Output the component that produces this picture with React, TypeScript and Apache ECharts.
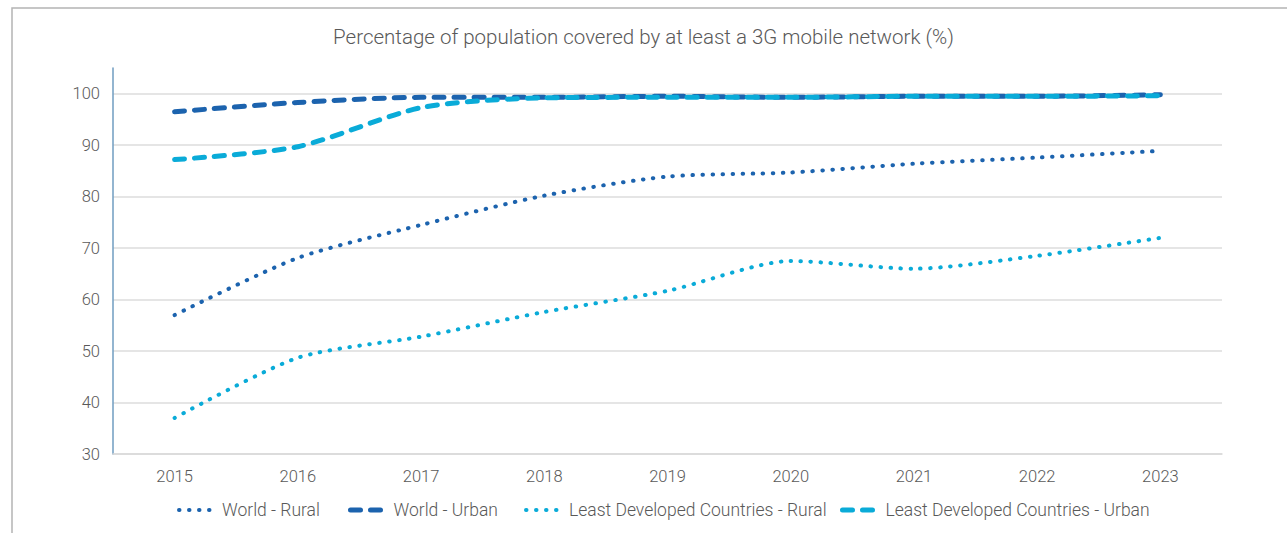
import React, { useEffect, useRef } from "react";
import * as echarts from "echarts";

const years = ["2015", "2016", "2017", "2018", "2019", "2020", "2021", "2022", "2023"];
const worldRural = [57.0, 68.1, 74.5, 80.2, 83.9, 84.7, 86.4, 87.6, 88.9];
const worldUrban = [96.5, 98.3, 99.3, 99.3, 99.5, 99.3, 99.5, 99.5, 99.8];
const ldcRural = [37.0, 48.7, 52.8, 57.6, 61.7, 67.5, 66.0, 68.5, 72.0];
const ldcUrban = [87.2, 89.7, 97.3, 99.2, 99.3, 99.3, 99.5, 99.5, 99.6];
const seriesNames = [
  "World - Rural",
  "World - Urban",
  "Least Developed Countries - Rural",
  "Least Developed Countries - Urban",
];

const DARK = "#1c63ae";
const LIGHT = "#0aabd8";
const FONT = "Roboto";

export default function App() {
  const ref = useRef<HTMLDivElement>(null);
  useEffect(() => {
    if (!ref.current) return;
    const chart = echarts.init(ref.current, null, { renderer: "svg" });
    const dotted = { type: [0.5, 9.5] as any, cap: "round" as any, width: 4 };
    const dashed = { type: [10, 10] as any, cap: "round" as any, width: 5 };
    const mk = (name: string, data: number[], color: string, ls: any) => ({
      name,
      type: "line",
      data,
      smooth: 0.25,
      symbol: "none",
      color,
      lineStyle: { ...ls, color },
    });
    const legendLefts = [177, 348, 524, 840];
    const legendWidths = [4, 5, 4, 5];
    const legends = seriesNames.map((n, i) => ({
      data: [n],
      left: legendLefts[i],
      top: 501,
      itemWidth: 35,
      itemHeight: 12,
      padding: 0,
      itemStyle: { opacity: 0 },
      lineStyle: { width: legendWidths[i] },
      textStyle: {
        fontFamily: FONT,
        fontWeight: 300,
        fontSize: 17.5,
        color: "#595959",
        padding: [0, 0, 0, 3],
      },
    }));
    chart.setOption({
      animation: false,
      backgroundColor: "#ffffff",
      graphic: [
        {
          type: "rect",
          shape: { x: 12, y: 8, width: 1400, height: 700 },
          style: { fill: "none", stroke: "#b4b4b4", lineWidth: 1.5 },
          silent: true,
        },
      ],
      title: {
        text: "Percentage of population covered by at least a 3G mobile network (%)",
        left: "center",
        top: 21,
        textStyle: { fontFamily: FONT, fontWeight: 300, fontSize: 20.5, color: "#595959" },
      },
      legend: legends,
      grid: { left: 113, right: 65, top: 68, bottom: 79 },
      xAxis: {
        type: "category",
        data: years,
        boundaryGap: true,
        axisLine: { show: true, lineStyle: { color: "#d9d9d9", width: 1.5 } },
        axisTick: { show: false },
        axisLabel: { fontFamily: FONT, fontWeight: 300, fontSize: 16.5, color: "#595959", margin: 14 },
      },
      yAxis: {
        type: "value",
        min: 30,
        max: 105,
        interval: 10,
        axisLine: { show: true, lineStyle: { color: "#6f9cc0", width: 1.5 } },
        axisTick: { show: false },
        axisLabel: {
          fontFamily: FONT,
          fontWeight: 300,
          fontSize: 16.5,
          color: "#595959",
          margin: 13,
          showMaxLabel: false,
        },
        splitLine: { show: true, showMaxLine: false, lineStyle: { color: "#dcdcdc", width: 1.5 } },
      },
      series: [
        mk(seriesNames[0], worldRural, DARK, dotted),
        mk(seriesNames[1], worldUrban, DARK, dashed),
        mk(seriesNames[2], ldcRural, LIGHT, dotted),
        mk(seriesNames[3], ldcUrban, LIGHT, dashed),
      ],
    });
    return () => chart.dispose();
  }, []);
  return (
    <div
      ref={ref}
      style={{ position: "fixed", left: 0, top: 0, width: 1287, height: 533, background: "#fff" }}
    />
  );
}
